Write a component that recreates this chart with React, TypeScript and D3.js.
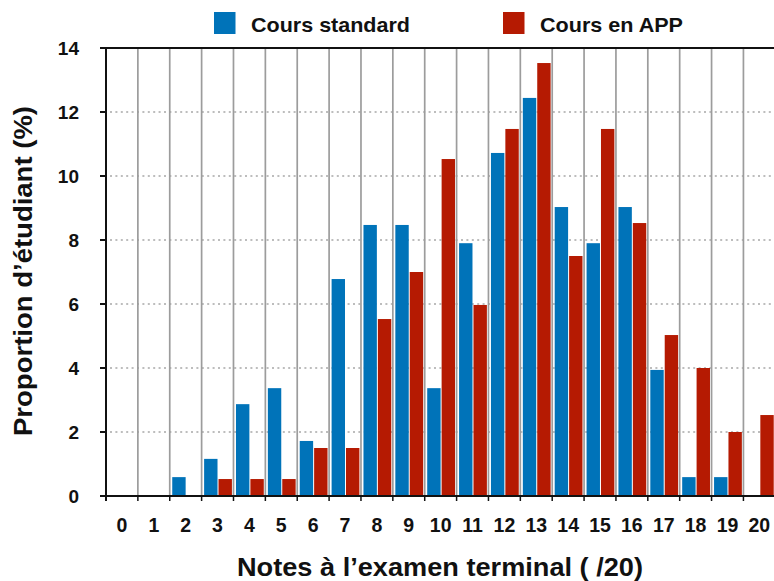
import React from "react";
import * as d3 from "d3";

const notes = ["0","1","2","3","4","5","6","7","8","9","10","11","12","13","14","15","16","17","18","19","20"];
const coursStandard = [0, 0, 0.59, 1.16, 2.87, 3.37, 1.72, 6.78, 8.47, 8.47, 3.37, 7.9, 10.72, 12.44, 9.03, 7.9, 9.03, 3.94, 0.59, 0.59, 0];
const coursAPP = [0, 0, 0, 0.53, 0.53, 0.53, 1.5, 1.5, 5.53, 7.0, 10.53, 5.97, 11.47, 13.53, 7.5, 11.47, 8.53, 5.03, 4.0, 2.0, 2.53];
const seriesNames = ["Cours standard", "Cours en APP"];
const seriesKeys = ["std", "app"];
const yTicks = [0, 2, 4, 6, 8, 10, 12, 14];
const gridTicks = [2, 4, 6, 8, 10, 12];

const W = 774, H = 581;
const FONT = "'Liberation Sans', Arial, Helvetica, sans-serif";
const BLUE = "#0073b9";
const RED = "#b51a02";

export default function App() {
  const left = 106, right = 775.3, top = 48, bottom = 496;
  const x = d3.scaleBand<string>().domain(notes).range([left, right]).paddingInner(0).paddingOuter(0);
  const xs = d3.scaleBand<string>().domain(seriesKeys).range([2.5, 30.3]).paddingInner(0.07);
  const y = d3.scaleLinear().domain([0, 14]).range([bottom, top]);
  const colors = [BLUE, RED];
  const data = [coursStandard, coursAPP];
  const boundaries = notes.slice(1).map((n) => x(n) as number);
  const legendX = [214, 503];
  const legendLen = [159, 143];

  return (
    <div style={{ position: "absolute", left: 0, top: 0 }}>
      <svg width={W} height={H} style={{ display: "block" }} fontFamily={FONT}>
        <rect x={0} y={0} width={W} height={H} fill="#fff" />
        {gridTicks.map((t) => (
          <line key={"g" + t} x1={left + 4} x2={right} y1={y(t)} y2={y(t)}
            stroke="#bdbdbd" strokeWidth={2} strokeDasharray="2 3.4" />
        ))}
        {boundaries.map((bx, i) => (
          <line key={"v" + i} x1={bx} x2={bx} y1={top} y2={bottom} stroke="#9c9c9c" strokeWidth={1.7} />
        ))}
        {data.map((vals, si) =>
          vals.map((v, i) =>
            v > 0 ? (
              <rect key={si + "-" + i}
                x={(x(notes[i]) as number) + (xs(seriesKeys[si]) as number)}
                width={xs.bandwidth()}
                y={y(v)} height={y(0) - y(v)} fill={colors[si]} />
            ) : null
          )
        )}
        <line x1={left} x2={right} y1={top} y2={top} stroke="#111" strokeWidth={2} />
        <line x1={left} x2={left} y1={top - 1} y2={bottom + 5} stroke="#111" strokeWidth={2} />
        {yTicks.map((t) => (
          <g key={"y" + t}>
            <line x1={left - 6} x2={left} y1={y(t)} y2={y(t)} stroke="#111" strokeWidth={2} />
            <text x={79} y={y(t) + 6.8} textAnchor="end" fontSize={19} fontWeight="bold" fill="#111">{t}</text>
          </g>
        ))}
        <line x1={left} x2={right} y1={bottom} y2={bottom} stroke="#111" strokeWidth={2} />
        {boundaries.map((bx, i) => (
          <line key={"xt" + i} x1={bx} x2={bx} y1={bottom} y2={bottom + 5} stroke="#111" strokeWidth={1.5} />
        ))}
        {notes.map((n) => (
          <text key={"xl" + n} x={(x(n) as number) + x.bandwidth() / 2} y={532}
            textAnchor="middle" fontSize={19.5} fontWeight="bold" fill="#111">{n}</text>
        ))}
        <text x={440} y={576} textAnchor="middle" fontSize={25} fontWeight="bold" fill="#111"
          textLength={406} lengthAdjust="spacingAndGlyphs">Notes à l’examen terminal ( /20)</text>
        <text transform="translate(32,271) rotate(-90)" textAnchor="middle" fontSize={25} fontWeight="bold" fill="#111"
          textLength={330} lengthAdjust="spacingAndGlyphs">Proportion d’étudiant (%)</text>
        {seriesNames.map((name, i) => (
          <g key={"lg" + i}>
            <rect x={legendX[i]} y={12} width={21.5} height={22} fill={colors[i]} />
            <text x={legendX[i] + 37} y={32} fontSize={21} fontWeight="bold" fill="#111"
              textLength={legendLen[i]} lengthAdjust="spacingAndGlyphs">{name}</text>
          </g>
        ))}
      </svg>
    </div>
  );
}
